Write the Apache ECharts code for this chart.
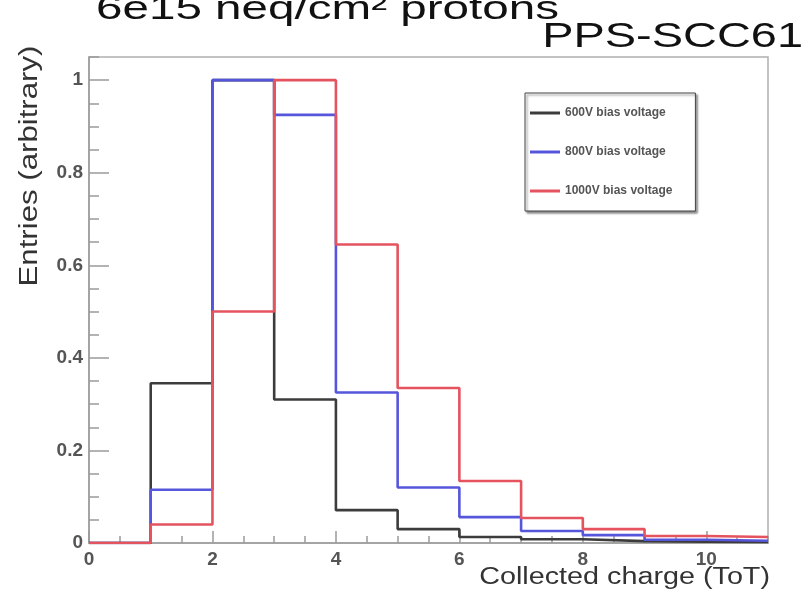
<!DOCTYPE html>
<html>
<head>
<meta charset="utf-8">
<script src="https://cdn.jsdelivr.net/npm/echarts@6/dist/echarts.min.js"></script>
<style>
html,body{margin:0;padding:0;background:#fff;}
#chart{width:809px;height:601px;}
</style>
</head>
<body>
<div id="chart"></div>
<script>
// Bin edges of the ToT histogram
const binEdges = [0, 1, 2, 3, 4, 5, 6, 7, 8, 9, 10, 11];
// Normalised entries per bin
const v600  = [0, 0.345, 1.0, 0.31, 0.071, 0.030, 0.013, 0.008, 0.004, 0.003, 0.002];
const v800  = [0, 0.115, 1.0, 0.925, 0.325, 0.120, 0.056, 0.026, 0.017, 0.007, 0.005];
const v1000 = [0, 0.040, 0.50, 1.0, 0.645, 0.335, 0.134, 0.054, 0.030, 0.015, 0.013];
const seriesNames = ['600V bias voltage', '800V bias voltage', '1000V bias voltage'];
const seriesColors = ['#3c3c3c', '#5656dc', '#e4535e'];
const titleText = '6e15 neq/cm\u00B2 protons';
const subTitleText = 'PPS-SCC61';
const xName = 'Collected charge (ToT)';
const yName = 'Entries (arbitrary)';

function stepData(vals) {
  const pts = vals.map((v, i) => [binEdges[i], v]);
  pts.push([binEdges[binEdges.length - 1], vals[vals.length - 1]]);
  return pts;
}

const chart = echarts.init(document.getElementById('chart'), null, {renderer: 'canvas'});
const axisGray = '#9a9a9a';
const font = '"Liberation Sans", Arial, Helvetica, sans-serif';

const option = {
  animation: false,
  backgroundColor: '#fff',
  grid: {
    left: 89, top: 57, width: 679, height: 486,
    show: true, borderColor: '#b0b0b0', borderWidth: 1.5, backgroundColor: 'transparent'
  },
  legend: {
    orient: 'vertical',
    left: 525, top: 93,
    padding: [14, 23, 14, 5],
    itemWidth: 30, itemHeight: 14, itemGap: 27,
    icon: 'path://M0,0H30V3H0Z',
    symbolKeepAspect: true,
    backgroundColor: '#fff',
    borderColor: '#444', borderWidth: 1,
    shadowColor: 'rgba(0,0,0,0.45)', shadowOffsetX: 2, shadowOffsetY: 2, shadowBlur: 2,
    textStyle: {fontSize: 12, fontWeight: 'bold', color: '#555', fontFamily: font},
    data: seriesNames
  },
  xAxis: [{
    type: 'value', min: 0, max: 11, interval: 2,
    axisLine: {show: true, onZero: false, lineStyle: {color: axisGray, width: 1.5}},
    axisTick: {show: true, inside: true, length: 12, lineStyle: {color: axisGray, width: 1.5}},
    axisLabel: {margin: 7, fontSize: 19, fontWeight: 'bold', color: '#555', fontFamily: font, showMaxLabel: false},
    splitLine: {show: false}
  }, {
    type: 'value', min: 0, max: 11, interval: 0.5, position: 'bottom',
    axisLine: {show: false, onZero: false},
    axisTick: {show: true, inside: true, length: 7, lineStyle: {color: axisGray, width: 1.5}},
    axisLabel: {show: false},
    splitLine: {show: false}
  }],
  yAxis: [{
    type: 'value', min: 0, max: 1.05, interval: 0.2,
    axisLine: {show: true, onZero: false, lineStyle: {color: axisGray, width: 1.5}},
    axisTick: {show: true, inside: true, length: 20, lineStyle: {color: axisGray, width: 1.5}},
    axisLabel: {margin: 6, fontSize: 19, fontWeight: 'bold', color: '#555', fontFamily: font, showMaxLabel: false},
    splitLine: {show: false}
  }, {
    type: 'value', min: 0, max: 1.05, interval: 0.05, position: 'left',
    axisLine: {show: false, onZero: false},
    axisTick: {show: true, inside: true, length: 10, lineStyle: {color: axisGray, width: 1.5}},
    axisLabel: {show: false},
    splitLine: {show: false}
  }],
  series: [v600, v800, v1000].map((vals, k) => ({
    name: seriesNames[k],
    type: 'line',
    step: 'end',
    xAxisIndex: 0, yAxisIndex: 0,
    symbol: 'none',
    data: stepData(vals),
    lineStyle: {color: seriesColors[k], width: 2.6},
    itemStyle: {color: seriesColors[k]},
    z: 2 + k
  })),
  graphic: [
    {type: 'text', x: 96, y: 10, scaleX: 1.4, z: 10,
     style: {text: titleText, fontSize: 34, fontFamily: font, fill: '#111', align: 'left', verticalAlign: 'middle'}},
    {type: 'text', x: 803, y: 37, scaleX: 1.38, scaleY: 1.05, z: 10,
     style: {text: subTitleText, fontSize: 34, fontFamily: font, fill: '#111', align: 'right', verticalAlign: 'middle'}},
    {type: 'text', x: 770, y: 578, scaleX: 1.25, z: 10,
     style: {text: xName, fontSize: 23, fontFamily: font, fill: '#333', align: 'right', verticalAlign: 'middle'}},
    {type: 'text', x: 30, y: 166, rotation: Math.PI / 2, scaleX: 1.3, scaleY: 1.05, z: 10,
     style: {text: yName, fontSize: 24, fontFamily: font, fill: '#333', align: 'center', verticalAlign: 'middle'}}
  ]
};
chart.setOption(option);
</script>
</body>
</html>
